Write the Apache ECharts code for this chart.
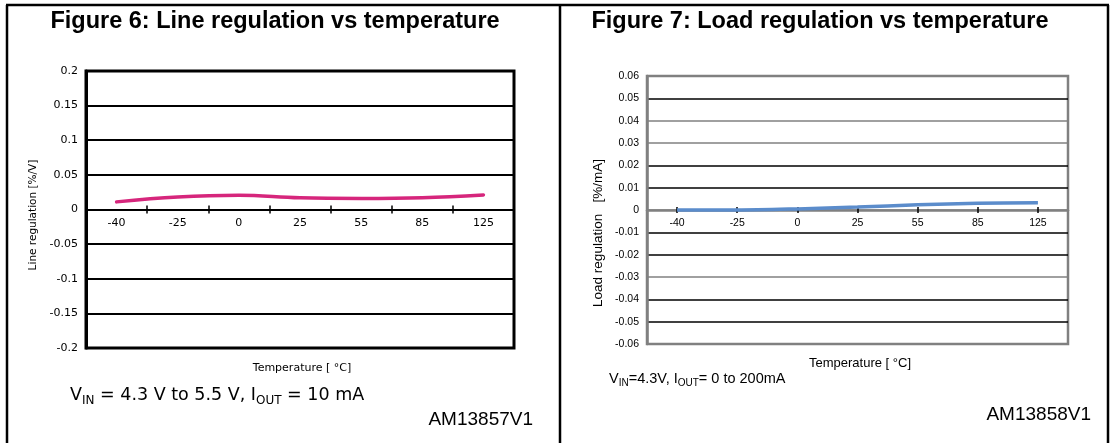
<!DOCTYPE html>
<html>
<head>
<meta charset="utf-8">
<script src="https://cdn.jsdelivr.net/npm/echarts@6/dist/echarts.min.js"></script>
<style>
html,body{margin:0;padding:0;background:#fff;}
#c{width:1112px;height:443px;}
</style>
</head>
<body>
<div id="c"></div>
<script>
// ---- data ----
const categories = ['-40', '-25', '0', '25', '55', '85', '125'];
const lineRegulation = [0.011, 0.018, 0.0205, 0.0168, 0.016, 0.017, 0.021];
const loadRegulation = [0.0, 0.0, 0.0005, 0.0013, 0.0023, 0.003, 0.0033];
const lineAxisRange = { min: -0.2, max: 0.2, interval: 0.05 };
const loadAxisRange = { min: -0.06, max: 0.06, interval: 0.01 };
const titles = ['Figure 6: Line regulation vs temperature', 'Figure 7: Load regulation vs temperature'];
const yNames = ['Line regulation [%/V]', 'Load regulation   [%/mA]'];
const xName = 'Temperature [ °C]';
const codes = ['AM13857V1', 'AM13858V1'];

const VERD = 'DejaVu Sans';
const ARIAL = 'Liberation Sans, Arial';

const grids = [
  { left: 86, top: 71, width: 428, height: 277 },
  { left: 647, top: 76, width: 421, height: 268 }
];
// offset (px) that moves an x axis from the grid edge to the value 0 line
function zeroOffset(g, r) {
  return -g.height * (0 - r.min) / (r.max - r.min);
}
const off0 = zeroOffset(grids[0], lineAxisRange);
const off1 = zeroOffset(grids[1], loadAxisRange);

const chart = echarts.init(document.getElementById('c'), null, { renderer: 'canvas' });

const loadSplitColors = ['#808080', '#000', '#000', '#808080', '#000', '#000', '#808080', '#000', '#000', '#808080', '#808080', '#000', '#808080'];

const option = {
  animation: false,
  backgroundColor: '#fff',
  grid: [
    Object.assign({ show: true, borderColor: '#000', borderWidth: 3, backgroundColor: 'transparent' }, grids[0]),
    Object.assign({ show: true, borderColor: '#808080', borderWidth: 2.5, backgroundColor: 'transparent' }, grids[1])
  ],
  xAxis: [
    {
      gridIndex: 0, type: 'category', data: categories, position: 'bottom', offset: off0,
      axisLine: { onZero: false, lineStyle: { color: '#000', width: 2 } },
      axisTick: { show: true, length: 4, lineStyle: { color: '#000', width: 1.5 } },
      axisLabel: { color: '#000', fontFamily: VERD, fontSize: 11, margin: 8 },
      splitLine: { show: false }
    },
    {
      gridIndex: 0, type: 'category', data: categories, position: 'top', offset: off0,
      axisLine: { show: false, onZero: false },
      axisTick: { show: true, length: 4, lineStyle: { color: '#000', width: 1.5 } },
      axisLabel: { show: false },
      splitLine: { show: false }
    },
    {
      gridIndex: 1, type: 'category', data: categories, position: 'bottom', offset: off1,
      axisLine: { onZero: false, lineStyle: { color: '#808080', width: 2.5 } },
      axisTick: { show: true, alignWithLabel: true, length: 3, lineStyle: { color: '#000', width: 1.5 } },
      axisLabel: { color: '#000', fontFamily: ARIAL, fontSize: 10.5, margin: 8 },
      splitLine: { show: false }
    },
    {
      gridIndex: 1, type: 'category', data: categories, position: 'top', offset: off1,
      axisLine: { show: false, onZero: false },
      axisTick: { show: true, alignWithLabel: true, length: 3, lineStyle: { color: '#000', width: 1.5 } },
      axisLabel: { show: false },
      splitLine: { show: false }
    }
  ],
  yAxis: [
    {
      gridIndex: 0, type: 'value', min: lineAxisRange.min, max: lineAxisRange.max, interval: lineAxisRange.interval,
      axisLine: { show: true, onZero: false, lineStyle: { color: '#000', width: 3 } },
      axisTick: { show: false },
      axisLabel: { color: '#000', fontFamily: VERD, fontSize: 11, margin: 8 },
      splitLine: { show: true, lineStyle: { color: '#000', width: 2 } }
    },
    {
      gridIndex: 1, type: 'value', min: loadAxisRange.min, max: loadAxisRange.max, interval: loadAxisRange.interval,
      axisLine: { show: true, onZero: false, lineStyle: { color: '#808080', width: 2.5 } },
      axisTick: { show: false },
      axisLabel: { color: '#000', fontFamily: ARIAL, fontSize: 10.5, margin: 8 },
      splitLine: { show: true, lineStyle: { color: loadSplitColors, width: 1.5 } }
    }
  ],
  series: [
    {
      type: 'line', xAxisIndex: 0, yAxisIndex: 0, data: lineRegulation,
      smooth: 0.4, showSymbol: false, symbol: 'none',
      lineStyle: { color: '#d6267c', width: 3.5, cap: 'round' }, z: 5
    },
    {
      type: 'line', xAxisIndex: 2, yAxisIndex: 1, data: loadRegulation,
      smooth: 0.3, showSymbol: false, symbol: 'none',
      lineStyle: { color: '#5b8ccb', width: 3.5 }, z: 5
    }
  ],
  graphic: [
    // frame
    { type: 'line', shape: { x1: 7, y1: 5, x2: 7, y2: 443 }, style: { stroke: '#000', lineWidth: 2.5 } },
    { type: 'line', shape: { x1: 6, y1: 5, x2: 1109, y2: 5 }, style: { stroke: '#000', lineWidth: 2.5 } },
    { type: 'line', shape: { x1: 560, y1: 5, x2: 560, y2: 443 }, style: { stroke: '#000', lineWidth: 2.5 } },
    { type: 'line', shape: { x1: 1108, y1: 5, x2: 1108, y2: 443 }, style: { stroke: '#000', lineWidth: 2.5 } },
    // titles
    { type: 'text', x: 275, y: 22, style: { text: titles[0], font: 'bold 23.5px ' + ARIAL, fill: '#000', textAlign: 'center', textVerticalAlign: 'middle' } },
    { type: 'text', x: 820, y: 22, style: { text: titles[1], font: 'bold 23.5px ' + ARIAL, fill: '#000', textAlign: 'center', textVerticalAlign: 'middle' } },
    // y axis names
    { type: 'text', x: 33, y: 215, rotation: Math.PI / 2, style: { text: yNames[0], font: '10.5px ' + VERD, fill: '#000', textAlign: 'center', textVerticalAlign: 'middle' } },
    { type: 'text', x: 598, y: 233, rotation: Math.PI / 2, style: { text: yNames[1], font: '13.5px ' + ARIAL, fill: '#000', textAlign: 'center', textVerticalAlign: 'middle' } },
    // x axis names
    { type: 'text', x: 302, y: 368, style: { text: xName, font: '11px ' + VERD, fill: '#000', textAlign: 'center', textVerticalAlign: 'middle' } },
    { type: 'text', x: 860, y: 363, style: { text: xName, font: '13px ' + ARIAL, fill: '#000', textAlign: 'center', textVerticalAlign: 'middle' } },
    // conditions
    {
      type: 'text', x: 70, y: 383,
      style: {
        text: '{n|V}{s|IN}{n| = 4.3 V to 5.5 V, I}{s|OUT}{n| = 10 mA}',
        fill: '#000',
        rich: {
          n: { fontFamily: VERD, fontSize: 17.5, lineHeight: 24, verticalAlign: 'middle' },
          s: { fontFamily: VERD, fontSize: 12, verticalAlign: 'bottom' }
        }
      }
    },
    {
      type: 'text', x: 609, y: 369,
      style: {
        text: '{n|V}{s|IN}{n|=4.3V, I}{s|OUT}{n|= 0 to 200mA}',
        fill: '#000',
        rich: {
          n: { fontFamily: ARIAL, fontSize: 14.5, lineHeight: 19, verticalAlign: 'middle' },
          s: { fontFamily: ARIAL, fontSize: 10, verticalAlign: 'bottom' }
        }
      }
    },
    // codes
    { type: 'text', x: 533, y: 420, style: { text: codes[0], font: '19px ' + ARIAL, fill: '#000', textAlign: 'right', textVerticalAlign: 'middle' } },
    { type: 'text', x: 1091, y: 415, style: { text: codes[1], font: '19px ' + ARIAL, fill: '#000', textAlign: 'right', textVerticalAlign: 'middle' } }
  ]
};

chart.setOption(option);
</script>
</body>
</html>
